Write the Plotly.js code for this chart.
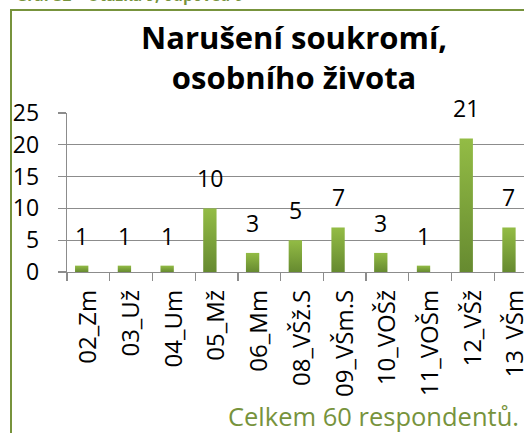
<!DOCTYPE html>
<html>
<head>
<meta charset="utf-8">
<script src="https://cdn.plot.ly/plotly-3.0.1.min.js"></script>
<style>
  html, body { margin: 0; padding: 0; background: #fff; overflow: hidden; width: 524px; height: 433px; }
  #wrap { position: relative; width: 524px; height: 433px; overflow: hidden; }
  #chart { position: absolute; left: 0; top: 0; width: 600px; height: 433px; }
  #frame { position: absolute; left: 10px; top: 9px; width: 600px; height: 500px;
           border-left: 2px solid #77933C; border-top: 2px solid #77933C; pointer-events: none; }
  #caption { position: absolute; right: 5px; top: 404px; font-family: 'Open Sans', sans-serif;
             font-size: 25.5px; line-height: 25.5px; color: #77933C; white-space: nowrap; }
</style>
</head>
<body>
<div id="wrap">
  <div id="chart"></div>
  <div id="frame"></div>
  <div id="caption"></div>
</div>
<script>
// ---- data ----
const categories = ["02_Zm", "03_Už", "04_Um", "05_Mž", "06_Mm", "08_VŠž.S", "09_VŠm.S", "10_VOŠž", "11_VOŠm", "12_VŠž", "13_VŠm"];
const values = [1, 1, 1, 10, 3, 5, 7, 3, 1, 21, 7];
const yTicks = [0, 5, 10, 15, 20, 25];
const titleText = "Narušení soukromí,<br>osobního života";
const captionText = "Celkem 60 respondentů.";
const headerText = "Graf 32 – Otázka 9, odpověď 6";

document.getElementById("caption").textContent = captionText;

// ---- geometry (pixels) ----
const W = 600, H = 433;
const plotL = 66.7, plotR = 537, plotT = 113.3, plotB = 271.7;
const pw = plotR - plotL, ph = plotB - plotT;
const px2x = p => (p - plotL) / pw;
const py2y = p => (plotB - p) / ph;

const fontFam = "'Open Sans', 'DejaVu Sans', sans-serif";
const gridCol = "#8c8c8c";
const green = "#77933C";
const barW = 0.312;

function build() {
  const trace = {
    type: "bar",
    x: categories,
    y: values,
    width: barW,
    offset: -barW,
    marker: { color: "#7ea53a", line: { width: 0 } },
    hoverinfo: "skip"
  };

  const annotations = categories.map((c, i) => ({
    x: c, y: values[i], xref: "x", yref: "y",
    text: String(values[i]), showarrow: false,
    xanchor: "center", yanchor: "bottom",
    xshift: -barW * pw / categories.length / 2, yshift: 12,
    font: { family: fontFam, size: 23, color: "#000" }
  }));

  annotations.push({
    xref: "paper", yref: "paper", x: px2x(294), y: py2y(15),
    xanchor: "center", yanchor: "top", align: "center", showarrow: false,
    text: "<b>" + titleText + "</b>",
    font: { family: fontFam, size: 31, color: "#000" }
  });
  annotations.push({
    xref: "paper", yref: "paper", x: px2x(14), y: py2y(8.5),
    xanchor: "left", yanchor: "bottom", align: "left", showarrow: false,
    text: "<b>" + headerText + "</b>",
    font: { family: fontFam, size: 15.5, color: green }
  });

  const layout = {
    width: W, height: H,
    margin: { l: plotL, r: W - plotR, t: plotT, b: H - plotB, pad: 0, autoexpand: false },
    paper_bgcolor: "#fff", plot_bgcolor: "#fff",
    showlegend: false,
    font: { family: fontFam, color: "#000" },
    xaxis: {
      type: "category",
      tickangle: -90,
      ticks: "outside", ticklen: 8, tickwidth: 1.3, tickcolor: gridCol,
      tickson: "boundaries",
      showgrid: false,
      showline: true, linecolor: gridCol, linewidth: 1.3,
      ticklabelstandoff: 7,
      tickfont: { family: fontFam, size: 24, color: "#000" },
      range: [-0.5, categories.length - 0.5],
      fixedrange: true
    },
    yaxis: {
      range: [0, 25],
      tickvals: yTicks,
      ticktext: yTicks.map(String),
      ticks: "outside", ticklen: 8, tickwidth: 1.3, tickcolor: gridCol,
      showgrid: true, gridcolor: gridCol, gridwidth: 1.3,
      zeroline: false,
      showline: true, linecolor: gridCol, linewidth: 1.3,
      ticklabelstandoff: 14,
      tickfont: { family: fontFam, size: 23, color: "#000" },
      fixedrange: true
    },
    annotations: annotations
  };

  return Plotly.newPlot("chart", [trace], layout, { staticPlot: true, displayModeBar: false }).then(gd => {
    const svg = gd.querySelector("svg.main-svg");
    const ns = "http://www.w3.org/2000/svg";
    let defs = svg.querySelector("defs");
    if (!defs) { defs = document.createElementNS(ns, "defs"); svg.insertBefore(defs, svg.firstChild); }
    if (!svg.querySelector("#barGrad")) {
      const lg = document.createElementNS(ns, "linearGradient");
      lg.setAttribute("id", "barGrad");
      lg.setAttribute("x1", "0"); lg.setAttribute("y1", "0");
      lg.setAttribute("x2", "0"); lg.setAttribute("y2", "1");
      [["0", "#93bc45"], ["1", "#668a30"]].forEach(([o, c]) => {
        const s = document.createElementNS(ns, "stop");
        s.setAttribute("offset", o); s.setAttribute("stop-color", c);
        lg.appendChild(s);
      });
      defs.appendChild(lg);
    }
    gd.querySelectorAll(".bars .point path").forEach(p => { p.style.fill = "url(#barGrad)"; });
  });
}

(async () => {
  try {
    if (document.fonts && document.fonts.load) {
      await Promise.all([
        document.fonts.load("25px 'Open Sans'"),
        document.fonts.load("bold 30px 'Open Sans'")
      ]);
    }
  } catch (e) {}
  build();
})();
</script>
</body>
</html>
